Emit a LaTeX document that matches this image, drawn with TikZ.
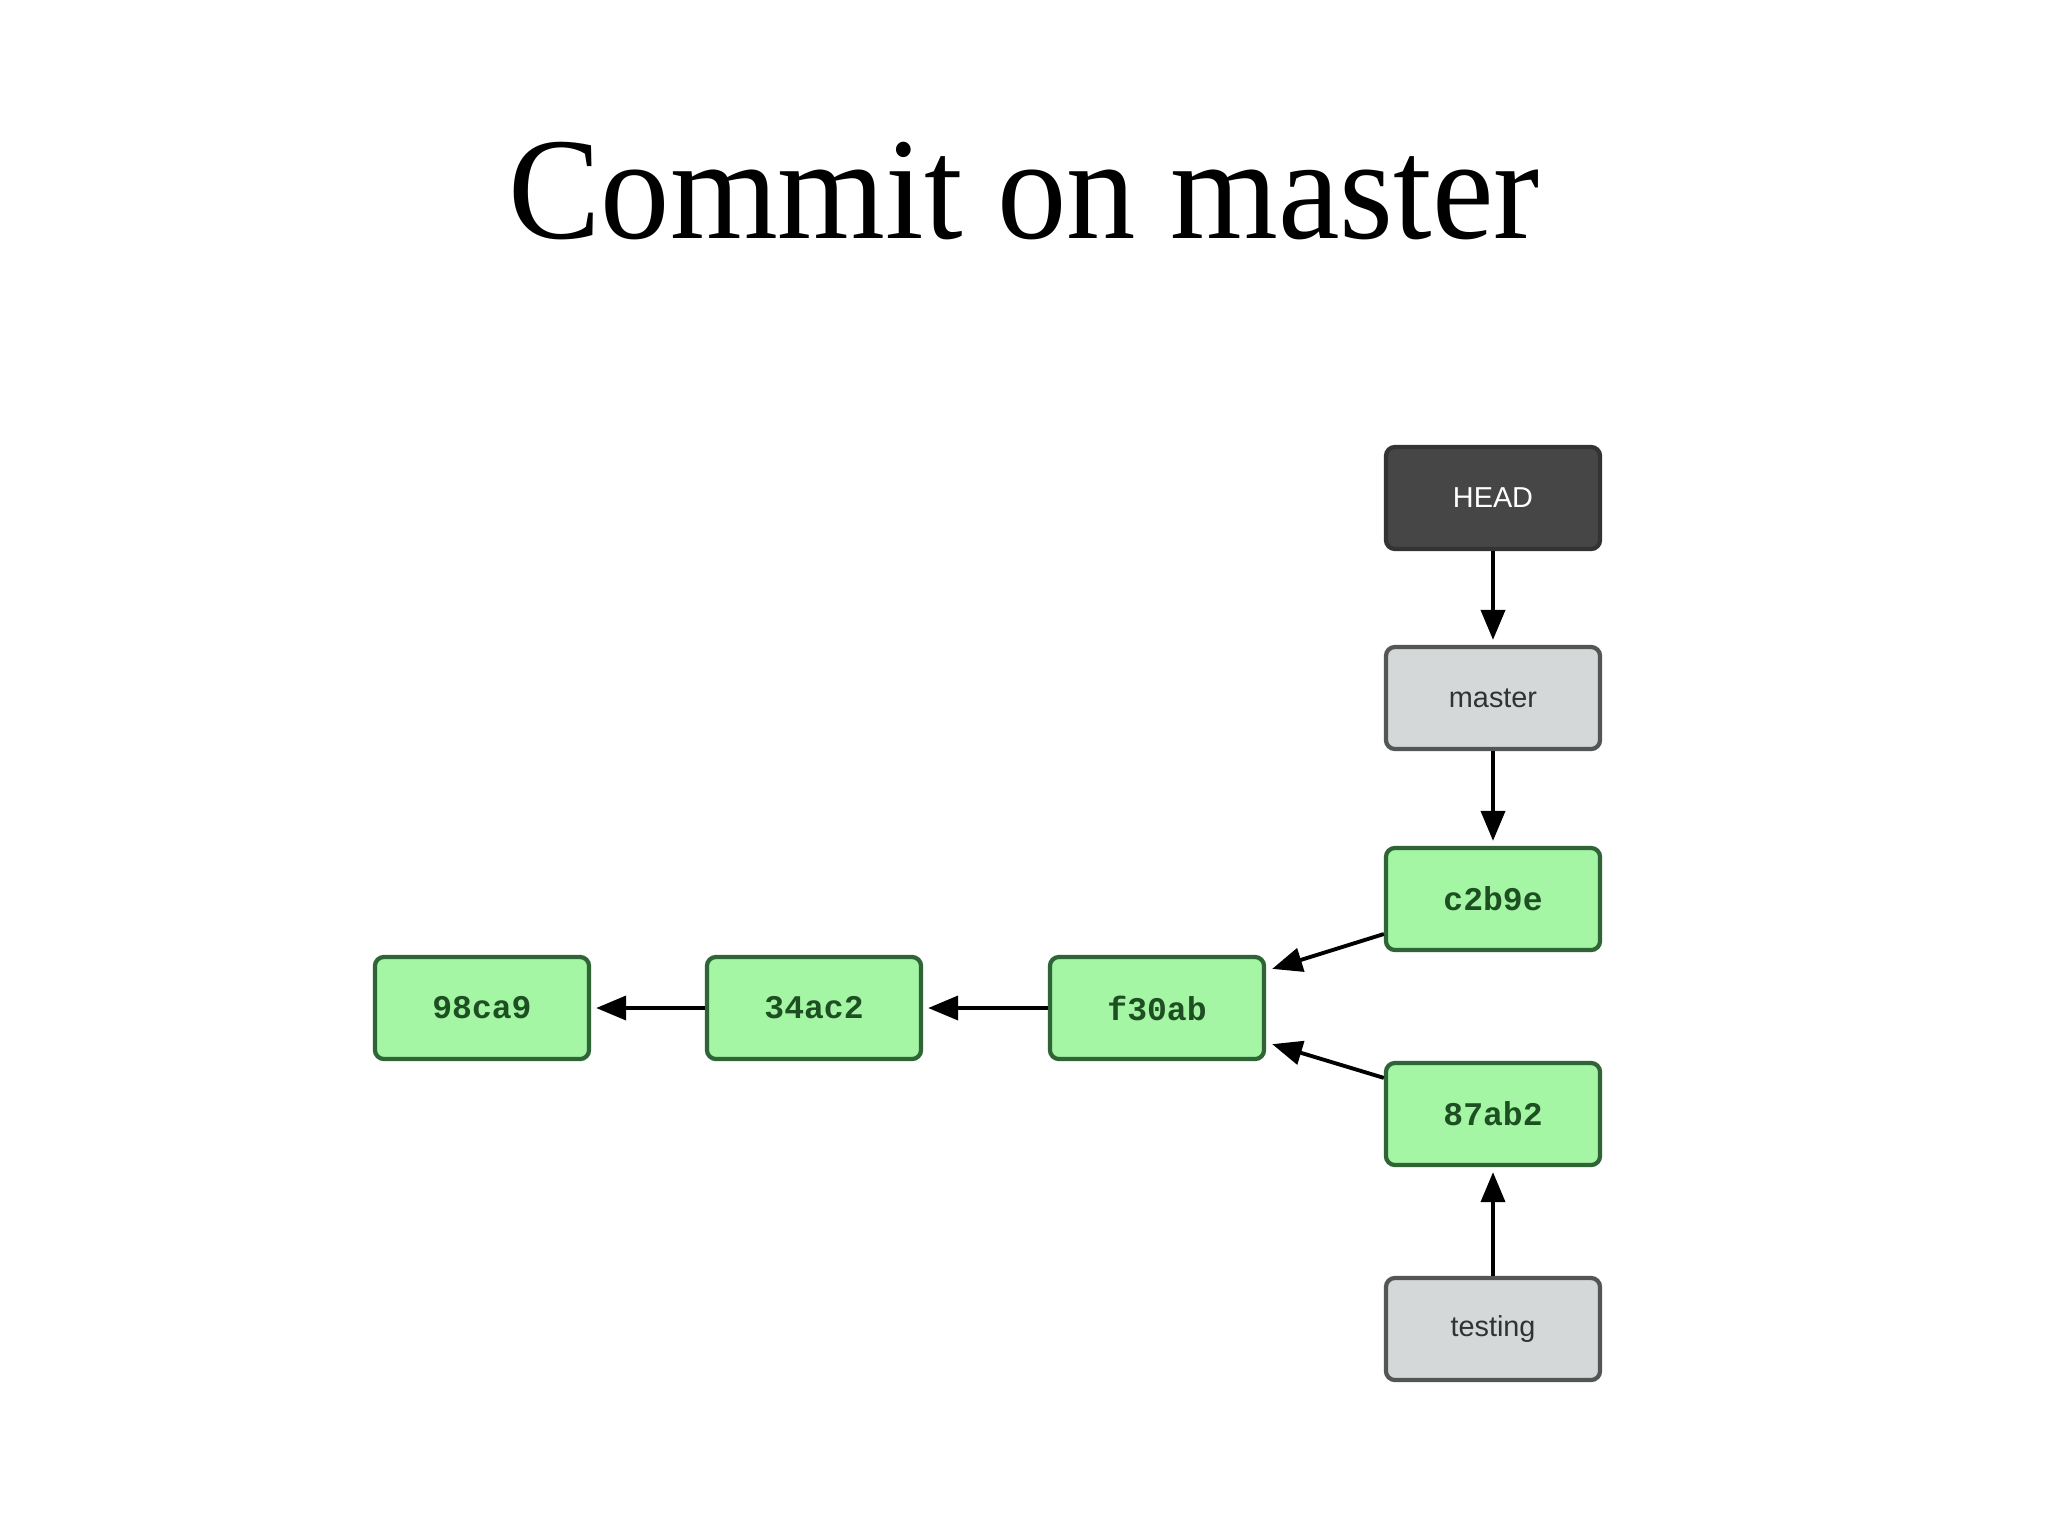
\documentclass[tikz,border=0pt]{standalone}
\usepackage{fontspec}
\setmainfont{Liberation Serif}
\newfontfamily\boxsans{Liberation Sans}
\newfontfamily\boxmono{Liberation Mono}
\usetikzlibrary{arrows.meta,calc}
\definecolor{commitfill}{HTML}{A4F5A4}
\definecolor{commitdraw}{HTML}{2F6536}
\definecolor{committext}{HTML}{1D4F22}
\definecolor{reffill}{HTML}{D5D8D8}
\definecolor{refdraw}{HTML}{545656}
\definecolor{reftext}{HTML}{303333}
\definecolor{headfill}{HTML}{464646}
\definecolor{headdraw}{HTML}{333333}
\begin{document}
\begin{tikzpicture}[x=0.01cm,y=-0.01cm,
  box/.style={rectangle, rounded corners=0.09cm, minimum width=2.14cm, minimum height=1.02cm, line width=1.2pt, inner sep=0pt},
  commit/.style={box, fill=commitfill, draw=commitdraw, text=committext, font=\boxmono\bfseries\fontsize{9.4}{11}\selectfont},
  refbox/.style={box, fill=reffill, draw=refdraw, text=reftext, font=\boxsans\fontsize{8.2}{10}\selectfont},
  headbox/.style={box, fill=headfill, draw=headdraw, text=white, font=\boxsans\fontsize{8.2}{10}\selectfont},
  link/.style={line width=1.1pt, -{Triangle[length=0.30cm,width=0.24cm]}, shorten >=0.05cm}]
\useasboundingbox (0,0) rectangle (2048,1536);
\fill[white] (0,0) rectangle (2048,1536);
\node[font=\fontsize{39.4}{45}\selectfont, anchor=base, yscale=1.05, inner sep=0pt] (title) at (1024,238) {Commit on master};
% column
\node[headbox] (head) at (1493,498) {HEAD};
\node[refbox] (master) at (1493,698) {master};
\node[commit] (c2b9e) at (1493,899) {c2b9e};
\node[commit] (e87ab2) at (1493,1114) {87ab2};
\node[refbox] (testing) at (1493,1329) {testing};
% row
\node[commit] (f30ab) at (1157,1008) {f30ab};
\node[commit] (a34ac2) at (814,1008) {34ac2};
\node[commit] (a98ca9) at (482,1008) {98ca9};
% connectors
\draw[link] (head) -- (master);
\draw[link] (master) -- (c2b9e);
\draw[link] (testing) -- (e87ab2);
\draw[link] (f30ab) -- (a34ac2);
\draw[link] (a34ac2) -- (a98ca9);
\coordinate (c2start) at ([yshift=-0.35cm]c2b9e.west);
\coordinate (c2end) at ([xshift=0.06cm,yshift=-0.14cm]f30ab.north east);
\coordinate (e8start) at ([yshift=-0.17cm]e87ab2.north west);
\coordinate (e8end) at ([xshift=0.06cm,yshift=0.17cm]f30ab.south east);
\draw[link, shorten >=0pt] (c2start) -- (c2end);
\draw[link, shorten >=0pt] (e8start) -- (e8end);
\end{tikzpicture}
\end{document}
